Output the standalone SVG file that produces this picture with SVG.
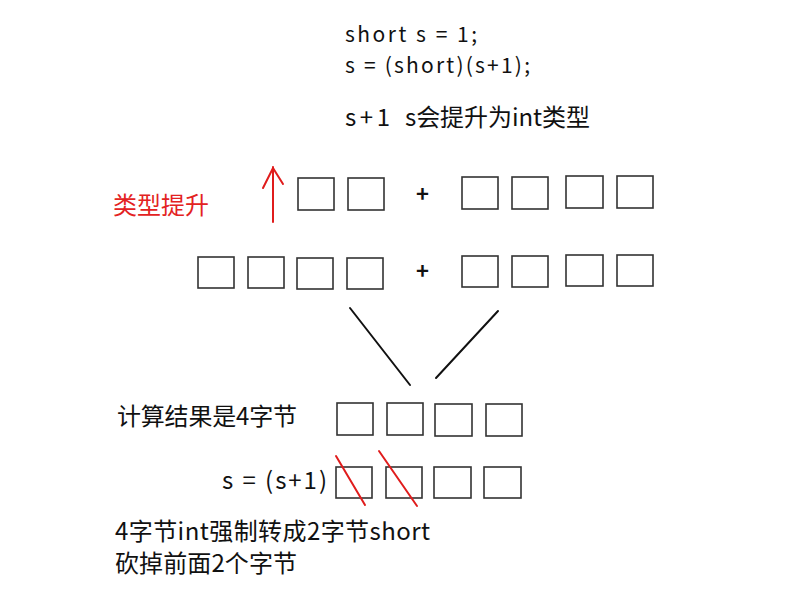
<svg xmlns="http://www.w3.org/2000/svg" width="792" height="602" viewBox="0 0 792 602">
<style>
text{font-family:"Noto Sans CJK SC","Noto Sans",sans-serif;font-size:24px;fill:#111}
.code{font-size:21px}
.red{fill:#e32222}
.plus{font-weight:700;font-size:22px}
.box{fill:#fff;stroke:#333;stroke-width:1.6}
.ln{stroke:#111;stroke-width:2;stroke-linecap:round}
.rl{stroke:#e01c1c;stroke-width:2;stroke-linecap:round;fill:none}
</style>
<rect width="792" height="602" fill="#fff"/>
<g id="code">
<text class="code" x="345" y="42" textLength="132">short s = 1;</text>
<text class="code" x="345" y="73" textLength="185">s = (short)(s+1);</text>
<text x="345" y="126" textLength="45">s+1</text>
<text x="405" y="126" textLength="185">s会提升为int类型</text>
</g>
<g id="promote-label">
<text class="red" x="113" y="214" textLength="96">类型提升</text>
<path class="rl" d="M273,222 V167 M263,188 L273,168 L283,184"/>
</g>
<g id="row1-short">
<rect class="box" x="298" y="178" width="36" height="32"/>
<rect class="box" x="348" y="178" width="36" height="32"/>
</g>
<g id="row1-plus"><text class="plus" x="416" y="202">+</text></g>
<g id="row1-int">
<rect class="box" x="462" y="177" width="36" height="32"/>
<rect class="box" x="512" y="177" width="36" height="32"/>
<rect class="box" x="566" y="176" width="37" height="32"/>
<rect class="box" x="617" y="176" width="36" height="32"/>
</g>
<g id="row2-int">
<rect class="box" x="198" y="257" width="36" height="31"/>
<rect class="box" x="248" y="257" width="36" height="31"/>
<rect class="box" x="297" y="258" width="36" height="31"/>
<rect class="box" x="347" y="258" width="36" height="31"/>
</g>
<g id="row2-plus"><text class="plus" x="416" y="279">+</text></g>
<g id="row2-int-b">
<rect class="box" x="462" y="256" width="36" height="31"/>
<rect class="box" x="512" y="256" width="36" height="31"/>
<rect class="box" x="566" y="255" width="37" height="31"/>
<rect class="box" x="617" y="255" width="36" height="31"/>
</g>
<g id="connectors">
<line class="ln" x1="350" y1="308" x2="410" y2="385"/>
<line class="ln" x1="498" y1="311" x2="436" y2="378"/>
</g>
<g id="result">
<text x="117" y="425" textLength="180">计算结果是4字节</text>
<rect class="box" x="337" y="403" width="36" height="32"/>
<rect class="box" x="387" y="403" width="36" height="32"/>
<rect class="box" x="435" y="404" width="37" height="32"/>
<rect class="box" x="486" y="404" width="36" height="32"/>
</g>
<g id="cast">
<text x="222" y="489" textLength="105">s = (s+1)</text>
<rect class="box" x="336" y="467" width="36" height="31"/>
<rect class="box" x="386" y="467" width="36" height="31"/>
<rect class="box" x="434" y="467" width="37" height="31"/>
<rect class="box" x="484" y="467" width="37" height="31"/>
<line class="rl" x1="336" y1="456" x2="365" y2="505"/>
<line class="rl" x1="379" y1="451" x2="417" y2="506"/>
</g>
<g id="note">
<text x="115" y="540" textLength="315">4字节int强制转成2字节short</text>
<text x="115" y="572" textLength="182">砍掉前面2个字节</text>
</g>
</svg>
